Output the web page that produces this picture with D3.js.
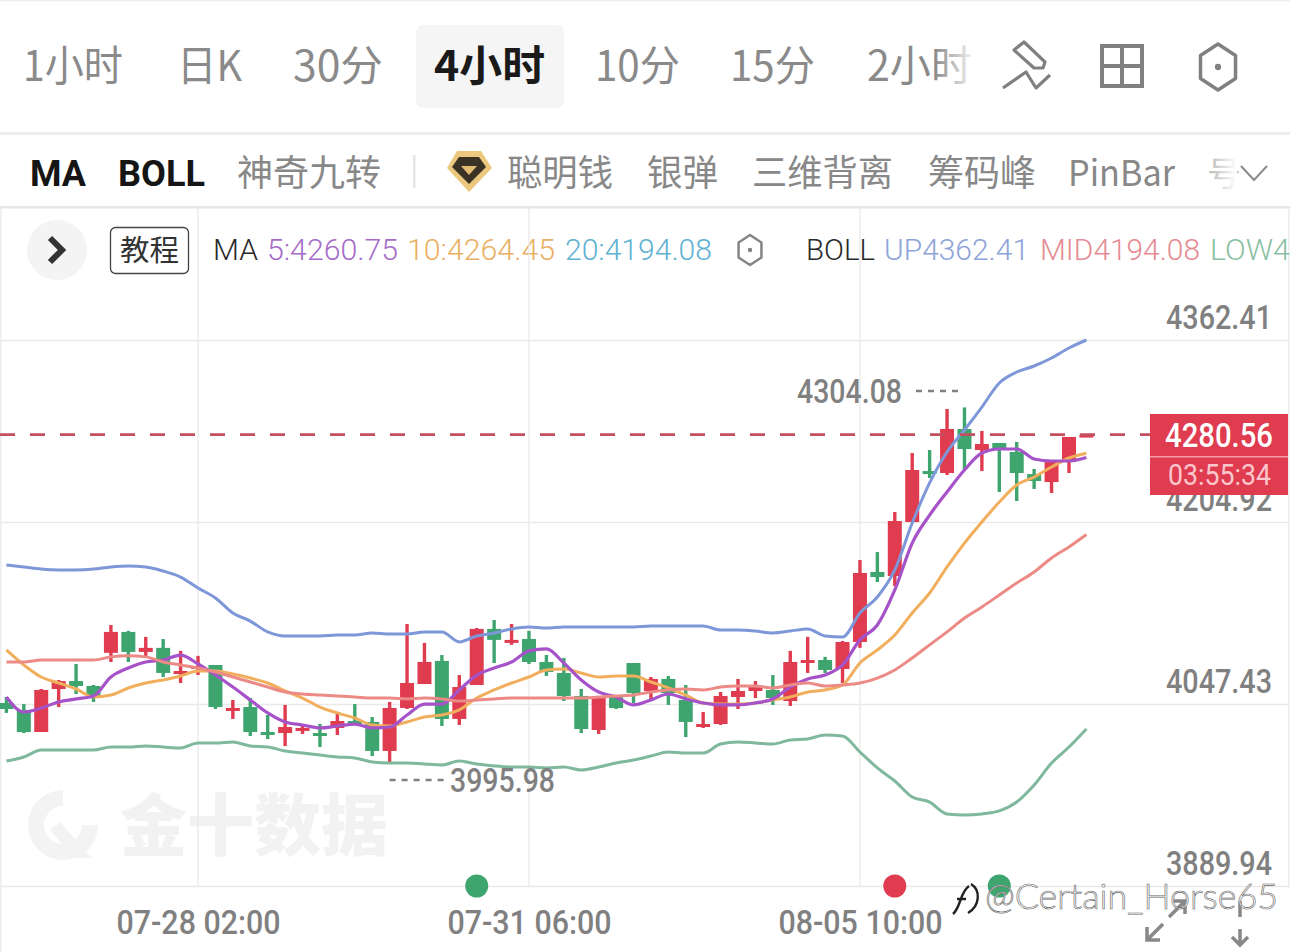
<!DOCTYPE html>
<html>
<head>
<meta charset="utf-8">
<script src="https://cdn.jsdelivr.net/npm/d3@7/dist/d3.min.js"></script>
<style>
html, body { margin: 0; padding: 0; background: #fff; overflow: hidden; }
</style>
</head>
<body>
<svg id="mainSvg" width="1290" height="952"></svg>
<script>
// candles, 4 hour bars
var opens = [4048.3,4042.3,4023.2,4060.4,4067.3,4063.0,4091.7,4109.8,4092.5,4096.0,4073.4,4077.7,4081.2,4043.1,4044.8,4023.2,4022.3,4024.9,4022.3,4026.7,4032.7,4031.9,4006.8,4044.0,4064.7,4084.7,4034.5,4063.9,4112.4,4102.0,4103.7,4083.8,4074.3,4054.4,4024.9,4053.5,4082.9,4058.7,4069.1,4050.9,4028.4,4030.1,4053.5,4058.7,4059.6,4050.0,4083.8,4085.5,4077.7,4101.1,4161.7,4158.2,4204.9,4249.0,4247.3,4285.4,4267.2,4273.3,4265.5,4246.4,4239.5,4256.8,4279.9];
var closes = [4043.1,4023.2,4059.6,4067.3,4063.0,4053.5,4109.8,4092.5,4096.0,4074.3,4076.0,4080.3,4044.8,4044.0,4023.2,4022.3,4027.5,4026.7,4021.5,4032.7,4031.9,4006.8,4044.0,4065.6,4083.8,4034.5,4062.1,4112.4,4102.9,4102.9,4083.8,4075.1,4054.4,4025.8,4053.5,4044.0,4056.9,4069.1,4056.9,4031.9,4030.1,4054.4,4058.7,4062.1,4052.6,4083.8,4085.5,4076.9,4101.1,4160.8,4157.3,4205.8,4249.9,4246.4,4285.4,4268.1,4272.4,4268.1,4247.3,4240.4,4256.8,4278.5,4280.56];
var highs = [4053.5,4047.4,4060.4,4068.2,4082.1,4063.9,4115.8,4110.7,4105.5,4103.7,4093.4,4089.1,4081.2,4050.9,4052.6,4037.9,4046.6,4029.3,4030.1,4039.7,4047.4,4036.2,4049.2,4116.7,4100.3,4089.8,4072.5,4113.2,4120.1,4116.7,4110.7,4089.8,4087.3,4060.4,4053.5,4054.4,4082.9,4070.8,4071.7,4063.9,4040.5,4057.8,4069.1,4067.3,4072.5,4093.4,4105.5,4088.2,4102.0,4172.0,4178.9,4213.6,4264.6,4267.2,4302.7,4304.08,4283.7,4273.3,4274.2,4250.8,4256.8,4278.5,4281.0];
var lows = [4039.7,4022.3,4023.2,4044.8,4056.1,4049.2,4083.8,4083.8,4088.2,4070.8,4065.6,4072.5,4043.1,4034.5,4019.7,4017.1,4011.0,4021.5,4010.2,4020.6,4031.0,4002.4,3995.98,4043.1,4064.7,4028.4,4029.3,4063.9,4082.9,4098.6,4082.1,4071.7,4050.0,4022.3,4021.5,4043.1,4048.3,4051.8,4046.6,4018.8,4026.7,4029.3,4043.1,4052.6,4046.6,4045.7,4074.3,4074.3,4065.6,4096.0,4153.0,4149.5,4204.9,4243.0,4245.6,4249.9,4249.0,4230.9,4223.1,4233.5,4230.0,4247.3,4279.0];

var ma5 = [4053.5,4040.5,4044.0,4049.2,4051.8,4054.4,4070.8,4078.6,4083.8,4085.5,4089.8,4082.1,4072.5,4062.1,4050.9,4039.7,4031.9,4029.3,4026.7,4028.4,4030.1,4026.7,4027.5,4037.9,4047.4,4047.4,4059.6,4072.5,4078.6,4083.8,4093.4,4095.1,4082.9,4068.2,4057.8,4053.5,4046.6,4050.9,4056.1,4051.8,4048.3,4046.6,4046.6,4048.3,4051.8,4062.1,4069.1,4072.5,4081.2,4102.9,4115.8,4146.1,4186.7,4210.9,4230.9,4249.9,4264.6,4268.1,4268.1,4259.4,4257.7,4257.7,4260.75];
var ma10 = [4094.2,4081.2,4070.8,4065.6,4060.4,4053.5,4055.2,4061.3,4065.6,4068.2,4071.7,4076.0,4076.0,4073.4,4069.9,4065.6,4058.7,4052.6,4044.8,4039.7,4035.3,4029.3,4028.4,4031.9,4036.2,4037.9,4042.3,4052.6,4059.6,4065.6,4070.8,4076.9,4077.7,4074.3,4070.8,4071.7,4071.7,4066.5,4061.3,4055.2,4048.3,4047.4,4047.4,4048.3,4050.9,4053.5,4057.8,4059.6,4063.9,4082.9,4094.2,4107.1,4126.2,4143.5,4166.0,4186.7,4204.9,4222.2,4236.9,4243.8,4252.5,4260.3,4264.45];
var bollMid = [4083.8,4083.8,4085.5,4085.5,4085.5,4085.5,4088.2,4089.1,4088.2,4083.8,4081.2,4078.6,4075.1,4070.8,4066.5,4062.1,4057.8,4056.1,4055.2,4054.4,4053.5,4052.6,4052.6,4051.8,4052.6,4051.8,4050.0,4050.9,4051.8,4052.6,4052.6,4052.6,4052.6,4052.6,4053.5,4054.4,4055.2,4057.8,4059.6,4060.4,4059.6,4062.1,4063.0,4063.0,4061.3,4063.9,4065.6,4063.0,4063.9,4065.6,4069.9,4076.9,4087.3,4098.6,4109.8,4121.8,4131.4,4141.7,4152.1,4161.7,4173.8,4183.3,4194.08];
var bollUp = [4167.7,4166.0,4164.2,4163.4,4163.4,4164.2,4166.0,4166.8,4166.0,4162.5,4157.3,4147.8,4139.2,4126.2,4119.2,4109.8,4106.3,4106.3,4106.3,4107.1,4107.1,4108.9,4108.0,4108.0,4109.8,4109.8,4101.1,4106.3,4108.9,4112.4,4114.1,4113.2,4114.1,4114.1,4114.1,4114.1,4114.1,4114.9,4114.9,4114.9,4114.9,4111.5,4111.5,4110.6,4108.9,4110.6,4112.4,4106.3,4105.4,4126.2,4140.0,4163.4,4204.0,4238.7,4265.5,4284.5,4304.4,4325.2,4334.7,4339.9,4346.8,4355.5,4362.41];
var bollLow = [3998.1,4001.6,4007.6,4007.6,4007.6,4007.6,4010.2,4010.2,4011.1,4010.2,4009.4,4013.7,4013.7,4014.6,4011.1,4010.2,4006.8,4005.0,4003.3,4001.6,4000.7,3997.3,3996.4,3996.4,3995.5,3994.7,3998.1,3995.5,3993.8,3992.9,3992.9,3992.1,3992.9,3990.3,3992.9,3996.4,3999.0,4002.4,4005.9,4005.0,4005.0,4012.8,4014.6,4013.7,4012.8,4016.3,4017.2,4020.6,4019.7,4005.9,3992.1,3980.8,3967.0,3962.6,3952.3,3951.4,3952.3,3954.9,3962.6,3977.3,3996.4,4010.2,4025.8];

var priceTicks = [4362.41, 4204.92, 4047.43, 3889.94];
var timeIndex = [11, 30, 49];
var timeLabels = ["07-28 02:00", "07-31 06:00", "08-05 10:00"];
var lastPrice = 4280.56;
var countDown = "03:55:34";
var maxPrice = 4304.08, maxIndex = 55;
var minPrice = 3995.98, minIndex = 22;
var eventIndex = [27, 51, 57];
var eventKind = ["g", "r", "g"];

var tabs = ["1小时", "日K", "30分", "10分", "15分", "2小时"];
var tabX = [23, 177, 293, 595, 730, 867];
var tabW = [100, 65, 90, 85, 85, 105];
var indicators = ["神奇九转", "聪明钱", "银弹", "三维背离", "筹码峰", "PinBar"];
var indicatorX = [237, 507, 647, 752, 928, 1068];
var indicatorW = [144, 106, 71, 141, 108, 107];

var UPCOL = "#e03c50", DOWNCOL = "#3fa56f";
var AXISCOL = "#808080", GRIDCOL = "#e9e9e9";
var NUMFONT = "Roboto, 'Liberation Sans', sans-serif";
var CJKFONT = "'Noto Sans CJK SC', 'Noto Sans', sans-serif";

var svg = d3.select("#mainSvg");
var x = d3.scaleLinear().domain([0, 62]).range([6.4, 1086.4]);
var y = d3.scaleLinear().domain([3889.94, 4362.41]).range([886, 340]);

function addText(g, str, tx, ty, size, col, opt)
{
	opt = opt || {};
	var t = g.append("text").attr("x", tx).attr("y", ty)
		.attr("font-size", size + "px").attr("fill", col)
		.attr("font-family", opt.font || CJKFONT)
		.attr("font-weight", opt.weight || 400)
		.text(str);
	if(opt.len)
		t.attr("textLength", opt.len).attr("lengthAdjust", "spacingAndGlyphs");
	if(opt.anchor)
		t.attr("text-anchor", opt.anchor);
	return t;
}

function hexIcon(g, cx, cy, r, sw, col)
{
	var pts = [];
	for(var i = 0; i < 6; i++)
	{
		var a = Math.PI / 3 * i - Math.PI / 2;
		pts.push([cx + r * 0.88 * Math.cos(a), cy + r * Math.sin(a)]);
	}
	g.append("polygon").attr("points", pts.join(" ")).attr("fill", "none").attr("stroke", col).attr("stroke-width", sw).attr("stroke-linejoin", "round");
	g.append("circle").attr("cx", cx).attr("cy", cy).attr("r", sw * 0.9).attr("fill", col);
}

function drawHeader()
{
	var g = svg.append("g");
	g.append("rect").attr("x", 0).attr("y", 0).attr("width", 1290).attr("height", 1.5).attr("fill", "#eeeeee");
	g.append("rect").attr("x", 416).attr("y", 25).attr("width", 148).attr("height", 83).attr("rx", 7).attr("fill", "#f5f5f5");
	tabs.forEach(function(d, i) {
		addText(g, d, tabX[i], 81, 42, "#8a8a8a", {len: tabW[i]});
	});
	addText(g, "4小时", 434, 81, 42, "#1a1a1a", {len: 111, weight: 700});

	var fade = svg.append("defs").append("linearGradient").attr("id", "fadeR");
	fade.append("stop").attr("offset", 0).attr("stop-color", "#fff").attr("stop-opacity", 0);
	fade.append("stop").attr("offset", 1).attr("stop-color", "#fff").attr("stop-opacity", 1);
	g.append("rect").attr("x", 935).attr("y", 35).attr("width", 42).attr("height", 60).attr("fill", "url(#fadeR)");

	// drawing tool, layout, settings icons
	g.append("path").attr("d", "M1024 42 L1045 62 L1043 68 L1034 68 L1014 50 Z M1003 88 L1026 72 L1036 88 L1050 75")
		.attr("fill", "none").attr("stroke", "#808080").attr("stroke-width", 3.2).attr("stroke-linejoin", "round");
	g.append("path").attr("d", "M1102 46 H1142 V86 H1102 Z M1122 46 V86 M1102 66 H1142")
		.attr("fill", "none").attr("stroke", "#808080").attr("stroke-width", 4);
	hexIcon(g, 1218, 67, 23, 3.5, "#808080");
	g.append("rect").attr("x", 0).attr("y", 132).attr("width", 1290).attr("height", 3).attr("fill", "#ececec");

	addText(g, "MA", 30, 186, 37, "#151515", {len: 56, weight: 700, font: NUMFONT});
	addText(g, "BOLL", 118, 186, 37, "#151515", {len: 87, weight: 700, font: NUMFONT});
	indicators.forEach(function(d, i) {
		addText(g, d, indicatorX[i], 186, 36, "#888888", {len: indicatorW[i]});
	});
	g.append("rect").attr("x", 413).attr("y", 155).attr("width", 2.5).attr("height", 33).attr("fill", "#e6e6e6");
	g.append("path").attr("d", "M457 151 H481 L492 168 L469 192 L447 168 Z").attr("fill", "#ecc87e");
	g.append("path").attr("d", "M459 157 H479 L486 167 L469 184 L452 167 Z").attr("fill", "#3b3226");
	g.append("path").attr("d", "M461 166 H477 L469 175 Z").attr("fill", "#e3bc72");
	addText(g, "号", 1207, 186, 34, "#c4c4c4");
	g.append("rect").attr("x", 1213).attr("y", 150).attr("width", 24).attr("height", 42).attr("fill", "url(#fadeR)");
	g.append("path").attr("d", "M1241 166 L1254 180 L1267 166").attr("fill", "none").attr("stroke", "#8a8a8a").attr("stroke-width", 2);
	g.append("rect").attr("x", 0).attr("y", 206).attr("width", 1290).attr("height", 2.5).attr("fill", "#e6e6e6");
	g.append("rect").attr("x", 0).attr("y", 208).attr("width", 1.5).attr("height", 744).attr("fill", "#ececec");
	g.append("rect").attr("x", 1288).attr("y", 208).attr("width", 1.5).attr("height", 680).attr("fill", "#ececec");
}

function drawLegend()
{
	var g = svg.append("g");
	g.append("circle").attr("cx", 57).attr("cy", 250).attr("r", 30).attr("fill", "#f4f4f4");
	g.append("path").attr("d", "M50 238 L62 250 L50 262").attr("fill", "none").attr("stroke", "#333").attr("stroke-width", 6);
	g.append("rect").attr("x", 110.5).attr("y", 227.5).attr("width", 78).attr("height", 46).attr("rx", 5).attr("fill", "#fff").attr("stroke", "#444").attr("stroke-width", 1.3);
	addText(g, "教程", 120, 261, 29, "#333", {len: 59});
	addText(g, "MA", 213, 260, 30, "#2a2a2a", {len: 45, font: NUMFONT, weight: 300});
	addText(g, "5:4260.75", 267, 260, 30, "#a66cc8", {len: 131, font: NUMFONT, weight: 300});
	addText(g, "10:4264.45", 407, 260, 30, "#e9b063", {len: 148, font: NUMFONT, weight: 300});
	addText(g, "20:4194.08", 565, 260, 30, "#5fb2d2", {len: 147, font: NUMFONT, weight: 300});
	hexIcon(g, 750, 250, 15, 2.5, "#858585");
	addText(g, "BOLL", 806, 260, 30, "#2a2a2a", {len: 69, font: NUMFONT, weight: 300});
	addText(g, "UP4362.41", 884, 260, 30, "#8da3d9", {len: 145, font: NUMFONT, weight: 300});
	addText(g, "MID4194.08", 1040, 260, 30, "#e58b93", {len: 160, font: NUMFONT, weight: 300});
	addText(g, "LOW4", 1210, 260, 30, "#8bc0a5", {len: 80, font: NUMFONT, weight: 300});
}

function drawWatermark()
{
	var g = svg.append("g").attr("fill", "#f2f2f2");
	g.append("path").attr("d", "M63 790 A35 35 0 1 0 98 825 L82 825 A19 19 0 1 1 63 806 Z").attr("fill", "#f3f3f3");
	g.append("path").attr("d", "M60 822 L92 858 L74 858 L50 830 Z").attr("fill", "#f3f3f3");
	addText(g, "金十数据", 120, 850, 67, "#f2f2f2", {len: 268, weight: 900});
}

function drawAxes()
{
	var yAxis = d3.axisRight(y).tickValues(priceTicks).tickFormat(d3.format(".2f")).tickSize(1288).tickPadding(0);
	var gy = svg.append("g").attr("transform", "translate(0,0)").call(yAxis);
	gy.select(".domain").remove();
	gy.selectAll(".tick line").attr("stroke", GRIDCOL).attr("stroke-width", 1.3);
	gy.selectAll(".tick text").attr("x", 1272).attr("y", -12).attr("dy", 0)
		.attr("text-anchor", "end").attr("font-family", NUMFONT).attr("font-weight", 500)
		.attr("font-size", "33px").attr("fill", AXISCOL)
		.attr("textLength", 106).attr("lengthAdjust", "spacingAndGlyphs");

	var xAxis = d3.axisBottom(x).tickValues(timeIndex).tickFormat(function(d, i) { return timeLabels[i]; }).tickSize(0).tickPadding(0);
	var gx = svg.append("g").attr("transform", "translate(0,886)").call(xAxis);
	gx.select(".domain").remove();
	gx.selectAll(".tick text").attr("y", 48).attr("dy", 0)
		.attr("font-family", NUMFONT).attr("font-weight", 500)
		.attr("font-size", "33px").attr("fill", AXISCOL)
		.attr("textLength", 164).attr("lengthAdjust", "spacingAndGlyphs");
	svg.append("g").selectAll("line").data(timeIndex).enter().append("line")
		.attr("x1", function(d) { return x(d); }).attr("x2", function(d) { return x(d); })
		.attr("y1", 208).attr("y2", 886)
		.attr("stroke", GRIDCOL).attr("stroke-width", 1.3);
}

function drawCandles()
{
	var g = svg.append("g");
	var idx = d3.range(opens.length);
	function col(i) { return closes[i] >= opens[i] ? UPCOL : DOWNCOL; }
	g.selectAll(".wick").data(idx).enter().append("line").attr("class", "wick")
		.attr("x1", function(i) { return x(i); }).attr("x2", function(i) { return x(i); })
		.attr("y1", function(i) { return y(highs[i]); }).attr("y2", function(i) { return y(lows[i]); })
		.attr("stroke", col).attr("stroke-width", 3.4);
	g.selectAll(".body").data(idx).enter().append("rect").attr("class", "body")
		.attr("x", function(i) { return x(i) - 7; }).attr("width", 14)
		.attr("y", function(i) { return y(Math.max(opens[i], closes[i])); })
		.attr("height", function(i) { return Math.max(3, Math.abs(y(opens[i]) - y(closes[i]))); })
		.attr("fill", col);
}

function drawLines()
{
	var g = svg.append("g").attr("fill", "none").attr("stroke-linejoin", "round");
	var line = d3.line().x(function(d, i) { return x(i); }).y(function(d) { return y(d); }).curve(d3.curveMonotoneX);
	g.append("path").attr("d", line(bollUp)).attr("stroke", "#7d97d8").attr("stroke-width", 3);
	g.append("path").attr("d", line(bollLow)).attr("stroke", "#7fb89d").attr("stroke-width", 3);
	g.append("path").attr("d", line(ma10)).attr("stroke", "#f1ae5c").attr("stroke-width", 3);
	g.append("path").attr("d", line(ma5)).attr("stroke", "#a652c8").attr("stroke-width", 3.2);
	g.append("path").attr("d", line(bollMid)).attr("stroke", "#ec8a86").attr("stroke-width", 3);
}

function drawMarks()
{
	var g = svg.append("g");
	// last price line and tag
	g.append("line").attr("x1", 0).attr("x2", 1150).attr("y1", y(lastPrice)).attr("y2", y(lastPrice))
		.attr("stroke", "#c4505f").attr("stroke-width", 2.8).attr("stroke-dasharray", "15,15");
	g.append("rect").attr("x", 1150).attr("y", 414).attr("width", 138).attr("height", 81).attr("fill", "#e03c50");
	g.append("rect").attr("x", 1150).attr("y", 456).attr("width", 138).attr("height", 1.5).attr("fill", "#f19aa4");
	addText(g, d3.format(".2f")(lastPrice), 1165, 447, 33, "#ffffff", {len: 108, weight: 500, font: NUMFONT});
	addText(g, countDown, 1168, 485, 29, "#fbc6cc", {len: 103, font: NUMFONT});

	// high and low markers
	addText(g, d3.format(".2f")(maxPrice), 797, 403, 33, AXISCOL, {len: 105, weight: 500, font: NUMFONT});
	g.append("line").attr("x1", 916).attr("x2", x(maxIndex) - 6).attr("y1", 391).attr("y2", 391)
		.attr("stroke", AXISCOL).attr("stroke-width", 2.4).attr("stroke-dasharray", "6,6");
	addText(g, d3.format(".2f")(minPrice), 450, 792, 33, AXISCOL, {len: 105, weight: 500, font: NUMFONT});
	g.append("line").attr("x1", x(minIndex)).attr("x2", 444).attr("y1", 780).attr("y2", 780)
		.attr("stroke", AXISCOL).attr("stroke-width", 2.4).attr("stroke-dasharray", "6,6");

	g.selectAll(".evt").data(eventIndex).enter().append("circle").attr("class", "evt")
		.attr("cx", function(d) { return x(d); }).attr("cy", 886).attr("r", 11.5)
		.attr("fill", function(d, i) { return eventKind[i] == "r" ? UPCOL : DOWNCOL; });

	// expand and scroll arrows
	g.append("path").attr("d", "M1147 940 L1163 924 M1147 927 V940 H1160 M1169 917 L1185 901 M1172 901 H1185 V914 M1240 901 V917 M1240 929 V945 M1232 937 L1240 945 L1248 937")
		.attr("fill", "none").attr("stroke", "#888").attr("stroke-width", 3.5);
}

function drawSignature()
{
	var g = svg.append("g");
	g.append("path").attr("d", "M953 914 C961 907 960 892 969 886 M957 899 H966 M971 884 C981 890 980 906 968 913")
		.attr("fill", "none").attr("stroke", "#222").attr("stroke-width", 2.4);
	addText(g, "@Certain_Horse65", 985, 909, 35, "#ffffff", {len: 293, font: "Lato, sans-serif", weight: 300})
		.attr("stroke", "#666").attr("stroke-width", 0.6);
}

drawHeader();
drawLegend();
drawWatermark();
drawAxes();
drawCandles();
drawLines();
drawMarks();
drawSignature();
</script>
</body>
</html>
